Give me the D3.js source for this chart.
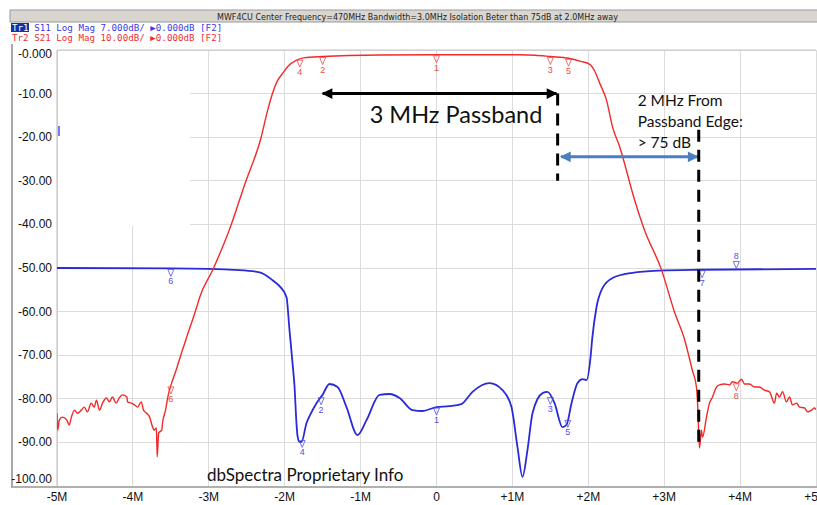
<!DOCTYPE html>
<html lang="en">
<head>
<meta charset="utf-8">
<title>MWF4CU filter response</title>
<script src="https://d3js.org/d3.v7.min.js"></script>
<style>
  body { margin: 0; background: #fff; }
  svg { display: block; }
  .grid line { stroke: #dcdcdc; stroke-width: 1; shape-rendering: crispEdges; }
  .ylab, .xlab { font-family: "Liberation Sans", Arial, sans-serif; font-size: 12px; fill: #111; }
  .hdr { font-family: "DejaVu Sans", sans-serif; font-size: 8.5px; fill: #222; }
  .trc { font-family: "DejaVu Sans Mono", monospace; font-size: 9.2px; white-space: pre; }
  .mk { font-family: "Liberation Sans", Arial, sans-serif; font-size: 9px; }
  .note { font-family: Lato, "Open Sans", sans-serif; fill: #111; }
</style>
</head>
<body>
<script>
// axis ticks
var xTicks = [-5, -4, -3, -2, -1, 0, 1, 2, 3, 4, 5];
var xTickLabels = ["-5M", "-4M", "-3M", "-2M", "-1M", "0", "+1M", "+2M", "+3M", "+4M", "+5M"];
var yTicks = [0, -10, -20, -30, -40, -50, -60, -70, -80, -90, -100];
var yTickLabels = ["-0.000", "-10.00", "-20.00", "-30.00", "-40.00", "-50.00", "-60.00", "-70.00", "-80.00", "-90.00", "-100.00"];

// S21 trace (red), [offset MHz, dB as displayed]
var s21 = [
  [-5.00,-83.3],[-4.99,-87.2],[-4.97,-84.9],[-4.93,-84.2],[-4.87,-84.9],[-4.84,-86.0],[-4.81,-84.2],
  [-4.77,-82.6],[-4.73,-83.3],[-4.68,-82.6],[-4.64,-81.9],[-4.60,-83.0],[-4.55,-81.0],[-4.51,-81.9],
  [-4.48,-80.3],[-4.44,-82.6],[-4.40,-81.0],[-4.35,-79.8],[-4.31,-80.7],[-4.27,-79.6],[-4.22,-81.0],
  [-4.18,-79.8],[-4.14,-79.1],[-4.08,-79.6],[-4.07,-80.7],[-4.02,-81.0],[-3.98,-81.4],[-3.94,-81.9],
  [-3.89,-80.7],[-3.86,-82.6],[-3.82,-83.3],[-3.78,-84.2],[-3.74,-86.5],[-3.72,-87.2],[-3.69,-86.7],
  [-3.68,-93.3],[-3.66,-87.8],[-3.62,-87.2],[-3.61,-85.6],[-3.57,-82.6],[-3.54,-79.6],[-3.49,-76.4],
  [-3.43,-73.4],[-3.36,-69.5],[-3.29,-65.8],[-3.16,-59.0],[-3.12,-56.7],[-2.95,-50.5],[-2.73,-41.3],
  [-2.52,-30.5],[-2.31,-20.0],[-2.23,-14.2],[-2.16,-9.9],[-2.10,-7.2],[-2.02,-5.2],[-1.95,-3.6],
  [-1.85,-2.4],[-1.75,-1.8],[-1.50,-1.5],[-0.75,-1.15],[0.00,-1.1],[1.09,-1.1],[1.30,-1.2],
  [1.50,-1.5],[1.74,-1.9],[1.90,-2.6],[2.02,-3.3],[2.08,-4.7],[2.15,-7.6],[2.24,-11.5],[2.32,-17.7],
  [2.41,-22.0],[2.61,-34.4],[2.74,-41.3],[2.96,-50.2],[3.14,-60.3],[3.27,-66.5],[3.37,-73.4],
  [3.425,-77.3],[3.44,-81.0],[3.465,-91.3],[3.49,-87.2],[3.505,-88.8],[3.557,-84.2],[3.597,-81.0],
  [3.636,-79.6],[3.689,-77.3],[3.729,-76.8],[3.794,-76.6],[3.86,-76.8],[3.90,-76.1],[3.966,-76.4],
  [4.018,-75.5],[4.058,-76.6],[4.124,-76.6],[4.19,-77.3],[4.255,-77.3],[4.32,-78.0],[4.387,-78.4],
  [4.453,-81.0],[4.48,-78.7],[4.519,-79.6],[4.559,-78.4],[4.611,-80.7],[4.651,-79.6],[4.69,-81.4],
  [4.743,-81.0],[4.783,-81.9],[4.849,-82.1],[4.888,-83.0],[4.941,-82.6],[4.98,-82.1],[5.00,-82.5]
];

// S11 trace (blue), same units
var s11 = [
  [-5.0,-50.0],[-3.5,-50.1],[-2.60,-50.5],[-2.33,-51.0],[-2.16,-52.8],[-2.05,-54.5],[-1.976,-56.7],
  [-1.937,-64.2],[-1.897,-71.8],[-1.871,-77.0],[-1.845,-85.6],[-1.831,-88.5],[-1.805,-89.9],
  [-1.779,-89.9],[-1.713,-85.6],[-1.673,-84.0],[-1.581,-81.0],[-1.502,-79.1],[-1.41,-76.6],
  [-1.304,-77.3],[-1.186,-81.9],[-1.041,-88.3],[-0.922,-84.9],[-0.751,-79.1],[-0.619,-78.9],
  [-0.487,-79.8],[-0.316,-82.6],[-0.184,-82.8],[0.0,-81.9],[0.171,-81.7],[0.329,-81.2],[0.474,-78.4],
  [0.698,-76.4],[0.87,-78.0],[0.988,-81.9],[1.067,-91.1],[1.133,-97.9],[1.199,-91.7],[1.265,-83.3],
  [1.397,-78.7],[1.462,-78.4],[1.555,-81.0],[1.66,-86.5],[1.713,-86.0],[1.779,-81.0],[1.858,-76.4],
  [1.924,-75.5],[1.976,-75.7],[2.03,-70.4],[2.05,-66.5],[2.108,-59.0],[2.187,-54.6],[2.319,-52.3],
  [2.582,-51.1],[2.938,-50.6],[3.465,-50.4],[5.0,-50.2]
];

// markers
var s11MarkerIds = [1, 2, 3, 4, 5, 6, 7, 8];
var s11MarkerFreq = [0, -1.52, 1.50, -1.77, 1.73, -3.5, 3.50, 3.95];
var s21MarkerIds = [1, 2, 3, 4, 5, 6, 8];
var s21MarkerFreq = [0, -1.5, 1.5, -1.8, 1.74, -3.5, 3.95];

var headerText = "MWF4CU   Center Frequency=470MHz Bandwidth=3.0MHz Isolation Beter than 75dB at 2.0MHz away";
var tr1Text = "    S11 Log Mag 7.000dB/ \u25B60.000dB [F2]";
var tr2Text = "Tr2 S21 Log Mag 10.00dB/ \u25B60.000dB [F2]";

var width = 817, height = 505;
var plotL = 57, plotR = 816, plotT = 50, plotB = 486;
var red = "#f22a2a", blue = "#2a2ad8";

var x = d3.scaleLinear().domain([-5, 5]).range([plotL, plotR]);
var y = d3.scaleLinear().domain([0, -100]).range([plotT, plotB]);

var svg = d3.select("body").append("svg")
  .attr("width", width).attr("height", height);

// header bar
svg.append("rect").attr("x", 10).attr("y", 10).attr("width", 808).attr("height", 12)
  .attr("fill", "#d9d6d0").attr("stroke", "#9a9a9a").attr("stroke-width", 1);
svg.append("text").attr("class", "hdr").attr("x", 217).attr("y", 19.5)
  .attr("textLength", 401).attr("lengthAdjust", "spacingAndGlyphs").text(headerText);

// trace legend lines
svg.append("rect").attr("x", 11).attr("y", 23).attr("width", 18).attr("height", 9).attr("fill", "#1530a8");
svg.append("text").attr("class", "trc").attr("x", 12).attr("y", 30.5).attr("fill", "#fff").text("Tr1");
svg.append("text").attr("class", "trc").attr("x", 12).attr("y", 30.5).attr("fill", "#3b3be0").text(tr1Text);
svg.append("text").attr("class", "trc").attr("x", 12).attr("y", 40.5).attr("fill", "#ee3030").text(tr2Text);

// left frame
svg.append("line").attr("x1", 12).attr("x2", 12).attr("y1", 44).attr("y2", 488)
  .attr("stroke", "#a8a8a8").attr("stroke-width", 2);

// grid
var grid = svg.append("g").attr("class", "grid");
grid.selectAll(".v").data(xTicks).join("line").attr("class", "v")
  .attr("x1", d => x(d)).attr("x2", d => x(d)).attr("y1", plotT).attr("y2", plotB);
grid.selectAll(".h").data(yTicks).join("line").attr("class", "h")
  .attr("x1", plotL).attr("x2", plotR).attr("y1", d => y(d)).attr("y2", d => y(d));

// white panel over upper-left of the grid
svg.append("rect").attr("x", plotL + 1).attr("y", plotT + 1).attr("width", 132).attr("height", 175).attr("fill", "#fff");
svg.append("rect").attr("x", plotL + 1).attr("y", 126).attr("width", 2).attr("height", 10).attr("fill", "#7b7bf0");

// plot border
svg.append("line").attr("x1", plotL).attr("x2", plotR).attr("y1", plotT).attr("y2", plotT).attr("stroke", "#c4c4c4");
svg.append("line").attr("x1", plotL).attr("x2", plotL).attr("y1", plotT).attr("y2", plotB).attr("stroke", "#bdbdbd");
svg.append("line").attr("x1", 12).attr("x2", width).attr("y1", plotB + 1).attr("y2", plotB + 1)
  .attr("stroke", "#b0b0b0").attr("stroke-width", 2);

// tick labels
svg.selectAll(".ylab").data(yTicks).join("text").attr("class", "ylab")
  .attr("x", 52).attr("text-anchor", "end")
  .attr("y", d => Math.min(Math.max(y(d) + 4, plotT + 8), plotB - 3))
  .text((d, i) => yTickLabels[i]);
svg.selectAll(".xlab").data(xTicks).join("text").attr("class", "xlab")
  .attr("x", d => x(d)).attr("y", 501).attr("text-anchor", "middle")
  .text((d, i) => xTickLabels[i]);

// traces
svg.append("clipPath").attr("id", "clip").append("rect")
  .attr("x", plotL).attr("y", plotT).attr("width", plotR - plotL).attr("height", plotB - plotT + 1);
var plot = svg.append("g").attr("clip-path", "url(#clip)");

var lineSmooth = d3.line().x(d => x(d[0])).y(d => y(d[1])).curve(d3.curveMonotoneX);

plot.append("path").datum(s11).attr("d", lineSmooth)
  .attr("fill", "none").attr("stroke", blue).attr("stroke-width", 1.8);
plot.append("path").datum(s21).attr("d", lineSmooth)
  .attr("fill", "none").attr("stroke", red).attr("stroke-width", 1.4).attr("stroke-linejoin", "round");

// markers, placed on the traces by interpolation
var bis = d3.bisector(d => d[0]).left;
function valueAt(trace, f) {
  var i = bis(trace, f);
  if (i <= 0) return trace[0][1];
  if (i >= trace.length) return trace[trace.length - 1][1];
  var a = trace[i - 1], b = trace[i];
  return a[1] + (b[1] - a[1]) * (f - a[0]) / (b[0] - a[0]);
}
function drawMarkers(ids, freqs, trace, color, above) {
  ids.forEach(function(id, i) {
    var px = x(freqs[i]), py = y(valueAt(trace, freqs[i]));
    var g = plot.append("g");
    if (above.indexOf(id) >= 0) {
      g.append("path").attr("d", d3.line()([[px - 3, py - 8], [px + 3, py - 8], [px, py - 1]]) + "Z")
        .attr("fill", "none").attr("stroke", color).attr("stroke-width", 0.8);
      g.append("text").attr("class", "mk").attr("x", px).attr("y", py - 10)
        .attr("text-anchor", "middle").attr("fill", color).text(id);
    } else {
      g.append("path").attr("d", d3.line()([[px - 3, py + 1], [px + 3, py + 1], [px, py + 8]]) + "Z")
        .attr("fill", "none").attr("stroke", color).attr("stroke-width", 0.8);
      g.append("text").attr("class", "mk").attr("x", px).attr("y", py + 16)
        .attr("text-anchor", "middle").attr("fill", color).text(id);
    }
  });
}
drawMarkers(s11MarkerIds, s11MarkerFreq, s11, "#5050e8", [8]);
drawMarkers(s21MarkerIds, s21MarkerFreq, s21, "#f04a4a", []);

// annotations
var defs = svg.append("defs");
function arrowHead(id, color) {
  defs.append("marker").attr("id", id).attr("viewBox", "0 0 10 10")
    .attr("refX", 9).attr("refY", 5).attr("markerWidth", 4.2).attr("markerHeight", 3.6)
    .attr("orient", "auto-start-reverse").attr("markerUnits", "strokeWidth")
    .append("path").attr("d", "M0,0L10,5L0,10Z").attr("fill", color);
}
arrowHead("ahBlack", "#000");
arrowHead("ahBlue", "#4a80c0");

svg.append("line").attr("x1", x(-1.50)).attr("x2", x(1.58)).attr("y1", y(-10.0)).attr("y2", y(-10.0))
  .attr("stroke", "#000").attr("stroke-width", 3)
  .attr("marker-start", "url(#ahBlack)").attr("marker-end", "url(#ahBlack)");
svg.append("line").attr("x1", x(1.596)).attr("x2", x(1.596)).attr("y1", y(-10.0)).attr("y2", y(-30.0))
  .attr("stroke", "#000").attr("stroke-width", 3).attr("stroke-dasharray", "12,8");
svg.append("line").attr("x1", x(1.64)).attr("x2", x(3.44)).attr("y1", y(-24.5)).attr("y2", y(-24.5))
  .attr("stroke", "#4a80c0").attr("stroke-width", 3)
  .attr("marker-start", "url(#ahBlue)").attr("marker-end", "url(#ahBlue)");
svg.append("line").attr("x1", x(3.455)).attr("x2", x(3.455)).attr("y1", y(-18.3)).attr("y2", y(-91.5))
  .attr("stroke", "#000").attr("stroke-width", 3).attr("stroke-dasharray", "12,8");

svg.append("text").attr("class", "note").attr("x", x(-0.88)).attr("y", y(-16.8))
  .style("font-size", "23.5px").text("3 MHz Passband");
var noteLines = ["2 MHz From", "Passband Edge:", "> 75 dB"];
svg.selectAll(".note2").data(noteLines).join("text").attr("class", "note note2")
  .attr("x", x(2.65)).attr("y", (d, i) => 106 + i * 21)
  .style("font-size", "15.5px").text(d => d);
svg.append("text").attr("class", "note").attr("x", 207).attr("y", 481)
  .style("font-size", "17px").text("dbSpectra Proprietary Info");
</script>
</body>
</html>
